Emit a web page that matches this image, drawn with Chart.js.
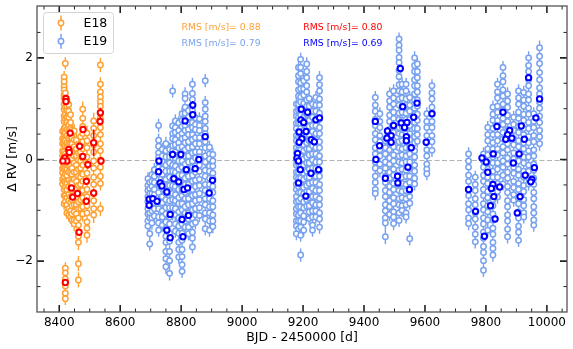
<!DOCTYPE html>
<html>
<head>
<meta charset="utf-8">
<script src="https://cdn.jsdelivr.net/npm/chart.js@4.4.1/dist/chart.umd.min.js"></script>
<style>
  html, body { margin: 0; padding: 0; background: #fff; }
</style>
</head>
<body>
<canvas id="rv" width="573" height="349"></canvas>
<script>
// ---- data ----
// each night: [BJD - 2450000, error, [RV values in m/s]]
const e18Nights = [
  [8411, 0.12, [0.55, 0.41, 0.31, 0.17, 0.07, -0.05, -0.17, -0.26, -0.39, -0.48]],
  [8416, 0.12, [1.62, 1.53, 1.43, 1.37, 1.27, 1.21, 1.09, 0.99, 0.85, 0.75, 0.61, 0.51, 0.39, 0.29, 0.15, 0.05, -0.09, -0.19, -0.33, -0.43, -0.59, -0.71, -0.87]],
  [8420, 0.12, [1.89, 1.31, 1.17, 1.03, 0.89, 0.79, 0.63, 0.53, 0.37, 0.27, 0.11, -0.01, -0.17, -0.29, -0.45, -0.55, -0.71, -0.83, -2.14, -2.23, -2.35, -2.49, -2.63, -2.74]],
  [8425, 0.12, [1.15, 1.04, 0.96, 0.83, 0.73, 0.59, 0.47, 0.33, 0.23, 0.07, -0.05, -0.19, -0.31, -0.47, -0.59, -0.75, -0.89, -1.05]],
  [8431, 0.13, [1.08, 0.95, 0.83, 0.69, 0.57, 0.43, 0.31, 0.15, 0.03, -0.13, -0.25, -0.41, -0.53, -0.69, -0.81, -0.97, -1.09]],
  [8437, 0.14, [0.88, 0.73, 0.61, 0.45, 0.31, 0.15, 0.03, -0.13, -0.27, -0.45, -0.57, -0.73, -0.85, -1.01, -1.13]],
  [8442, 0.14, [0.58, 0.43, 0.31, 0.13, 0.01, -0.17, -0.29, -0.47, -0.61, -0.79, -0.91, -1.07, -1.19]],
  [8449, 0.14, [0.56, 0.39, 0.25, 0.07, -0.07, -0.25, -0.39, -0.57, -0.71, -0.89, -1.03, -1.19, -1.27]],
  [8456, 0.14, [0.38, 0.21, 0.07, -0.11, -0.25, -0.43, -0.57, -0.75, -0.89, -1.07, -1.21]],
  [8463, 0.15, [0.30, 0.13, -0.01, -0.19, -0.33, -0.51, -0.65, -0.83, -0.97, -1.15, -1.29, -1.43, -1.51, -1.63, -2.05, -2.37]],
  [8470, 0.15, [0.45, 0.29, 0.15, -0.03, -0.17, -0.35, -0.49, -0.67, -0.79, -0.96]],
  [8477, 0.15, [0.99, 0.81, 0.65, 0.51, 0.35, 0.21, 0.03, -0.11, -0.29, -0.43, -0.61, -0.75, -0.93, -1.07]],
  [8491, 0.15, [0.52, 0.37, 0.23, 0.05, -0.09, -0.27, -0.41, -0.59, -0.73, -0.91, -1.05, -1.23, -1.35, -1.49]],
  [8513, 0.16, [0.76, 0.61, 0.47, 0.29, 0.15, -0.03, -0.17, -0.35, -0.49, -0.67, -0.81, -0.97, -1.09]],
  [8535, 0.14, [1.86, 1.48, 1.33, 1.23, 1.13, 1.05, 0.91, 0.81, 0.63, 0.49, 0.31, 0.17, -0.01, -0.15, -0.33, -0.47, -0.97]]
];

const e19Nights = [
  [8691, 0.13, [-0.38, -0.51, -0.61, -0.73, -0.83, -0.97, -1.07, -1.21, -1.31]],
  [8697, 0.13, [-0.45, -0.57, -0.67, -0.81, -0.91, -1.05, -1.15, -1.46, -1.66]],
  [8704, 0.13, [-0.30, -0.43, -0.53, -0.67, -0.77, -0.91, -1.01, -1.15, -1.25]],
  [8712, 0.13, [-0.20, -0.33, -0.45, -0.59, -0.69, -0.85, -0.97, -1.11]],
  [8726, 0.13, [0.67, 0.38, 0.26, 0.13, 0.04, -0.15, -0.29, -0.49, -0.65, -0.83, -0.97, -1.13, -1.25, -1.39]],
  [8738, 0.13, [0.20, 0.07, -0.04, -0.19, -0.29, -0.45, -0.57, -0.73, -0.85, -1.01, -1.13, -1.29]],
  [8750, 0.14, [0.31, 0.17, 0.05, -0.11, -0.23, -0.39, -0.51, -0.67, -0.79, -0.95, -1.07, -1.23, -1.35, -1.51, -1.63, -1.81, -1.95, -2.11]],
  [8762, 0.14, [0.20, 0.05, -0.07, -0.23, -0.35, -0.51, -0.63, -0.81, -0.95, -1.13, -1.27, -1.45, -1.61, -1.81, -1.99, -2.24]],
  [8772, 0.13, [1.35, 0.66, 0.51, 0.41, 0.27, 0.17, 0.03, -0.11, -0.23, -0.39, -0.51, -0.67, -0.79, -0.95, -1.07]],
  [8781, 0.13, [0.76, 0.63, 0.53, 0.39, 0.29, 0.15, 0.03, -0.13, -0.25, -0.41, -0.53, -0.69, -0.81, -0.97, -1.09, -1.27, -1.41]],
  [8792, 0.13, [0.72, 0.57, 0.47, 0.33, 0.23, 0.09, -0.03, -0.19, -0.31, -0.47, -0.59, -0.75, -0.87, -1.03, -1.15, -1.31, -1.45, -1.63, -1.77, -1.92]],
  [8803, 0.13, [0.90, 0.77, 0.65, 0.51, 0.41, 0.25, 0.13, -0.03, -0.15, -0.31, -0.43, -0.59, -0.71, -0.87, -0.99, -1.15, -1.27, -1.45, -1.59, -1.77, -1.91, -2.07, -2.20]],
  [8813, 0.13, [1.29, 1.20, 1.03, 0.91, 0.81, 0.67, 0.57, 0.43, 0.33, 0.19, 0.07, -0.09, -0.21, -0.37, -0.49, -0.65, -0.77, -0.93, -1.05, -1.21, -1.33]],
  [8824, 0.13, [0.96, 0.83, 0.73, 0.59, 0.49, 0.35, 0.23, 0.07, -0.05, -0.21, -0.33, -0.49, -0.61, -0.77, -0.89, -1.05, -1.17, -1.33, -1.46]],
  [8837, 0.13, [1.48, 1.30, 1.18, 0.97, 0.87, 0.73, 0.63, 0.49, 0.39, 0.25, 0.13, -0.03, -0.15, -0.31, -0.43, -0.59, -0.71, -0.87, -0.99, -1.15, -1.27, -1.43, -1.55, -1.72]],
  [8847, 0.13, [0.82, 0.69, 0.59, 0.43, 0.31, 0.15, 0.03, -0.13, -0.25, -0.41, -0.53, -0.69, -0.81, -0.97, -1.09, -1.24]],
  [8860, 0.13, [0.80, 0.67, 0.57, 0.43, 0.31, 0.15, 0.05, -0.11, -0.23, -0.39, -0.51, -0.67, -0.79, -0.95, -1.10]],
  [8879, 0.13, [1.55, 1.12, 0.99, 0.85, 0.75, 0.61, 0.51, 0.35, 0.23, 0.07, -0.05, -0.21, -0.33, -0.49, -0.61, -0.77, -0.89, -1.05, -1.17, -1.36]],
  [8893, 0.13, [0.24, 0.11, 0.01, -0.13, -0.23, -0.37, -0.49, -0.65, -0.77, -0.93, -1.05, -1.21, -1.39]],
  [8904, 0.13, [0.10, -0.03, -0.13, -0.27, -0.37, -0.53, -0.65, -0.81, -0.93, -1.09, -1.21, -1.32]],

  [9178, 0.13, [1.09, 0.95, 0.85, 0.71, 0.61, 0.47, 0.37, 0.23, 0.13, -0.01, -0.11, -0.25, -0.35, -0.49, -0.59, -0.73, -0.83, -0.97, -1.07, -1.21, -1.31, -1.46]],
  [9185, 0.13, [1.81, 1.65, 1.53, 1.37, 1.25, 1.09, 0.97, 0.83, 0.71, 0.55, 0.45, 0.29, 0.19, 0.03, -0.09, -0.25, -0.37, -0.53, -0.65, -0.81, -0.93, -1.09, -1.21, -1.36]],
  [9192, 0.13, [1.97, 1.81, 1.69, 1.51, 1.39, 1.23, 1.13, 0.97, 0.87, 0.71, 0.61, 0.45, 0.33, 0.19, 0.07, -0.09, -0.21, -0.37, -0.49, -0.65, -0.77, -0.93, -1.05, -1.21, -1.33, -1.49, -1.88]],
  [9202, 0.13, [1.55, 1.39, 1.27, 1.11, 0.99, 0.83, 0.71, 0.57, 0.45, 0.29, 0.17, 0.01, -0.11, -0.27, -0.39, -0.55, -0.67, -0.83, -0.95, -1.11, -1.23, -1.39]],
  [9212, 0.13, [1.88, 1.73, 1.61, 1.45, 1.33, 1.17, 1.05, 0.89, 0.77, 0.61, 0.49, 0.33, 0.21, 0.05, -0.07, -0.23, -0.35, -0.51, -0.63, -0.79, -0.92]],
  [9220, 0.13, [1.20, 1.05, 0.93, 0.77, 0.65, 0.49, 0.37, 0.21, 0.09, -0.07, -0.19, -0.35, -0.47, -0.63, -0.75, -0.91, -1.03, -1.16]],
  [9231, 0.13, [1.09, 0.95, 0.83, 0.67, 0.55, 0.39, 0.27, 0.11, -0.01, -0.17, -0.29, -0.45, -0.57, -0.73, -0.85, -1.01, -1.13, -1.29, -1.39]],
  [9242, 0.13, [1.22, 1.07, 0.95, 0.79, 0.67, 0.51, 0.39, 0.23, 0.11, -0.05, -0.17, -0.33, -0.45, -0.61, -0.73, -0.89, -1.01, -1.13]],
  [9254, 0.13, [1.61, 1.47, 1.35, 1.19, 1.07, 0.91, 0.79, 0.63, 0.51, 0.35, 0.23, 0.07, -0.05, -0.21, -0.33, -0.49, -0.61, -0.77, -0.89, -1.05, -1.17, -1.33]],

  [9437, 0.13, [1.22, 1.07, 0.95, 0.79, 0.67, 0.51, 0.39, 0.23, 0.11, -0.05, -0.17, -0.33, -0.45, -0.59, -0.67]],
  [9452, 0.13, [0.90, 0.75, 0.63, 0.47, 0.35, 0.19, 0.07, -0.09, -0.22]],
  [9470, 0.14, [0.37, 0.23, 0.11, -0.05, -0.17, -0.33, -0.45, -0.61, -0.73, -0.89, -1.01, -1.15, -1.25, -1.52]],
  [9484, 0.13, [1.29, 1.15, 1.03, 0.87, 0.75, 0.59, 0.47, 0.31, 0.19, 0.03, -0.09, -0.25, -0.37, -0.53, -0.65, -0.81, -0.93, -1.08]],
  [9497, 0.13, [1.35, 1.21, 1.09, 0.93, 0.81, 0.65, 0.53, 0.37, 0.25, 0.09, -0.03, -0.19, -0.31, -0.47, -0.59, -0.75, -0.87, -1.03, -1.13, -1.26]],
  [9515, 0.13, [2.37, 2.25, 2.15, 2.01, 1.91, 1.75, 1.63, 1.47, 1.35, 1.19, 1.07, 0.91, 0.79, 0.63, 0.51, 0.35, 0.23, 0.07, -0.05, -0.21, -0.33, -0.49, -0.61, -0.77, -0.89, -1.05, -1.20]],
  [9525, 0.13, [1.48, 1.33, 1.21, 1.05, 0.93, 0.77, 0.65, 0.49, 0.37, 0.21, 0.09, -0.07, -0.19, -0.35, -0.47, -0.63, -0.75, -0.91, -1.00]],
  [9538, 0.13, [1.48, 1.35, 1.19, 1.07, 0.91, 0.79, 0.63, 0.51, 0.35, 0.23, 0.07, -0.05, -0.21, -0.33, -0.49, -0.61, -0.77, -0.89, -1.05, -1.13]],
  [9550, 0.13, [1.22, 1.07, 0.95, 0.79, 0.67, 0.51, 0.39, 0.23, 0.11, -0.05, -0.17, -0.33, -0.45, -0.61, -0.73, -0.86, -1.56]],
  [9566, 0.13, [2.00, 1.85, 1.73, 1.57, 1.45, 1.29, 1.17, 1.01, 0.89, 0.73, 0.61, 0.45, 0.33, 0.17, 0.05, -0.11, -0.23, -0.37, -0.48]],
  [9575, 0.13, [1.88, 1.73, 1.61, 1.45, 1.33, 1.17, 1.05, 0.89, 0.77, 0.61, 0.49, 0.36]],
  [9606, 0.13, [0.90, 0.75, 0.63, 0.47, 0.35, 0.19, 0.07, -0.09, -0.19, -0.28]],
  [9623, 0.13, [1.45, 1.31, 1.19, 1.03, 0.91, 0.75, 0.63, 0.47, 0.35, 0.18]],

  [9743, 0.13, [0.11, -0.03, -0.15, -0.31, -0.43, -0.59, -0.71, -0.87, -0.99, -1.15, -1.26]],
  [9765, 0.13, [-0.35, -0.49, -0.61, -0.77, -0.89, -1.05, -1.17, -1.33, -1.47, -1.62]],
  [9792, 0.13, [0.11, -0.03, -0.15, -0.31, -0.43, -0.59, -0.71, -0.87, -0.99, -1.15, -1.27, -1.43, -1.55, -1.71, -1.83, -1.99, -2.18]],
  [9806, 0.13, [0.63, 0.49, 0.37, 0.21, 0.09, -0.07, -0.19, -0.35, -0.47, -0.63, -0.75, -0.91, -1.03, -1.19, -1.39]],
  [9823, 0.13, [1.03, 0.89, 0.77, 0.61, 0.49, 0.33, 0.21, 0.05, -0.07, -0.23, -0.35, -0.51, -0.63, -0.79, -0.91, -1.07, -1.19, -1.35, -1.47, -1.63, -1.75, -1.88]],
  [9838, 0.13, [1.48, 1.33, 1.21, 1.05, 0.93, 0.77, 0.65, 0.49, 0.37, 0.21, 0.09, -0.07, -0.19, -0.35, -0.47, -0.63, -0.74]],
  [9856, 0.13, [1.81, 1.65, 1.53, 1.37, 1.25, 1.09, 0.97, 0.81, 0.69, 0.53, 0.41, 0.25, 0.13, -0.03, -0.15, -0.31, -0.48]],
  [9871, 0.13, [1.29, 1.15, 1.03, 0.87, 0.75, 0.59, 0.47, 0.31, 0.19, 0.03, -0.09, -0.25, -0.37, -0.53, -0.65, -0.81, -0.93, -1.09, -1.21, -1.37, -1.52]],
  [9891, 0.13, [0.83, 0.69, 0.57, 0.41, 0.29, 0.13, 0.01, -0.15, -0.27, -0.43, -0.55, -0.69, -0.80]],
  [9907, 0.13, [1.35, 1.21, 1.09, 0.93, 0.81, 0.65, 0.53, 0.37, 0.25, 0.09, -0.03, -0.19, -0.31, -0.47, -0.59, -0.75, -0.87, -1.03, -1.15, -1.31, -1.43, -1.59]],
  [9924, 0.13, [1.32, 1.17, 1.05, 0.89, 0.77, 0.61, 0.49, 0.33, 0.21, 0.05, -0.07, -0.23, -0.35, -0.51, -0.63, -0.79, -0.91, -1.05, -1.13]],
  [9940, 0.13, [2.00, 1.85, 1.73, 1.57, 1.45, 1.29, 1.17, 1.01, 0.89, 0.73, 0.61, 0.45, 0.33, 0.17, 0.05, -0.11, -0.23, -0.37, -0.48]],
  [9957, 0.13, [0.90, 0.75, 0.63, 0.47, 0.35, 0.19, 0.07, -0.09, -0.21, -0.37, -0.49, -0.65, -0.77, -0.93, -1.05, -1.19, -1.29]],
  [9976, 0.14, [2.20, 2.03, 1.89, 1.71, 1.57, 1.41, 1.29, 1.13, 1.01, 0.85, 0.73, 0.57, 0.45, 0.31]]
];

// binned points: [BJD - 2450000, RV, error]
const e18Binned = [
  [8422, 1.20, 0.06], [8422, 1.14, 0.06], [8436, 0.52, 0.06], [8478, 0.59, 0.07], [8467, 0.26, 0.07],
  [8431, 0.20, 0.06], [8433, 0.14, 0.06], [8477, 0.06, 0.07], [8535, 0.92, 0.10], [8534, 0.75, 0.08],
  [8513, 0.33, 0.26], [8494, -0.10, 0.08], [8418, 0.03, 0.06], [8425, -0.03, 0.06], [8412, -0.03, 0.06],
  [8537, -0.03, 0.07], [8440, -0.56, 0.06], [8489, -0.43, 0.07], [8444, -0.74, 0.06], [8460, -0.67, 0.07],
  [8489, -0.82, 0.07], [8513, -0.66, 0.08], [8465, -1.43, 0.07], [8420, -2.42, 0.06]
];

const e19Binned = [
  [8838, 1.07, 0.08], [8838, 0.88, 0.06], [8813, 0.76, 0.06], [8879, 0.45, 0.06], [8772, 0.10, 0.06],
  [8799, 0.10, 0.06], [8727, -0.03, 0.06], [8858, 0.00, 0.06], [8726, -0.24, 0.06], [8817, -0.20, 0.06],
  [8846, -0.18, 0.06], [8903, -0.41, 0.06], [8776, -0.38, 0.06], [8792, -0.44, 0.06], [8731, -0.46, 0.06],
  [8737, -0.52, 0.06], [8753, -0.64, 0.06], [8809, -0.59, 0.06], [8821, -0.56, 0.06], [8892, -0.66, 0.06],
  [8695, -0.78, 0.06], [8707, -0.77, 0.06], [8721, -0.82, 0.06], [8695, -0.90, 0.06], [8764, -1.08, 0.06],
  [8824, -1.10, 0.06], [8803, -1.18, 0.06], [8753, -1.39, 0.06], [8764, -1.54, 0.06], [8806, -1.52, 0.06],
  [9194, 0.99, 0.06], [9215, 0.93, 0.06], [9193, 0.78, 0.06], [9202, 0.73, 0.06], [9242, 0.78, 0.06],
  [9254, 0.82, 0.06], [9187, 0.54, 0.06], [9210, 0.55, 0.06], [9196, 0.41, 0.06], [9187, 0.34, 0.06],
  [9227, 0.39, 0.06], [9237, 0.35, 0.06], [9182, 0.12, 0.06], [9180, 0.03, 0.06], [9185, -0.03, 0.06],
  [9191, -0.20, 0.06], [9226, -0.27, 0.06], [9251, -0.20, 0.06], [9185, -0.46, 0.06], [9209, -0.72, 0.06],
  [9519, 1.79, 0.06], [9574, 1.11, 0.06], [9527, 1.04, 0.06], [9623, 0.90, 0.06], [9437, 0.75, 0.06],
  [9563, 0.83, 0.06], [9522, 0.72, 0.06], [9541, 0.73, 0.06], [9497, 0.67, 0.06], [9533, 0.63, 0.06],
  [9477, 0.56, 0.08], [9489, 0.47, 0.06], [9475, 0.42, 0.06], [9539, 0.45, 0.06], [9489, 0.34, 0.06],
  [9451, 0.27, 0.06], [9539, 0.37, 0.06], [9604, 0.34, 0.06], [9555, 0.23, 0.06], [9439, 0.00, 0.06],
  [9544, -0.15, 0.06], [9470, -0.37, 0.06], [9510, -0.33, 0.06], [9511, -0.46, 0.06], [9549, -0.59, 0.06],
  [9940, 1.61, 0.06], [9976, 1.19, 0.06], [9856, 0.93, 0.06], [9964, 0.82, 0.06], [9836, 0.65, 0.06],
  [9916, 0.66, 0.06], [9878, 0.57, 0.06], [9871, 0.49, 0.06], [9885, 0.42, 0.06], [9865, 0.40, 0.06],
  [9926, 0.40, 0.06], [9824, 0.11, 0.06], [9909, 0.11, 0.06], [9787, 0.03, 0.06], [9801, -0.05, 0.06],
  [9890, -0.07, 0.06], [9806, -0.25, 0.06], [9959, -0.16, 0.06], [9929, -0.31, 0.06], [9951, -0.39, 0.06],
  [9947, -0.44, 0.06], [9823, -0.49, 0.06], [9845, -0.54, 0.06], [9818, -0.57, 0.06], [9826, -0.73, 0.06],
  [9743, -0.59, 0.06], [9912, -0.73, 0.06], [9815, -0.91, 0.06], [9766, -1.02, 0.06], [9903, -1.05, 0.06],
  [9830, -1.17, 0.06], [9795, -1.51, 0.06]
];

const xTicks = [8400, 8600, 8800, 9000, 9200, 9400, 9600, 9800, 10000];
const xMinor = [8350, 8450, 8500, 8550, 8650, 8700, 8750, 8850, 8900, 8950, 9050, 9100, 9150,
  9250, 9300, 9350, 9450, 9500, 9550, 9650, 9700, 9750, 9850, 9900, 9950, 10050];
const yTicks = [-2, 0, 2];
const yMinor = [-2.5, -1.5, -1, -0.5, 0.5, 1, 1.5, 2.5];

const seriesNames = ['E18', 'E19'];
const rmsLabels = ['RMS [m/s]= 0.88', 'RMS [m/s]= 0.79', 'RMS [m/s]= 0.80', 'RMS [m/s]= 0.69'];

const C_E18 = '#FFA033';
const C_E19 = '#78A2EF';
const C_BIN18 = '#FF0000';
const C_BIN19 = '#0000FF';
const FONT = "'DejaVu Sans', sans-serif";

function fromNights(nights) {
  const data = [], errs = [];
  nights.forEach(([t, e, ys]) => ys.forEach(v => { data.push({ x: t, y: v }); errs.push(e); }));
  return { data, errs };
}
function fromBinned(rows) {
  return { data: rows.map(r => ({ x: r[0], y: r[1] })), errs: rows.map(r => r[2]) };
}

const s18 = fromNights(e18Nights);
const s19 = fromNights(e19Nights);
const b18 = fromBinned(e18Binned);
const b19 = fromBinned(e19Binned);

// ---- plugins ----
const errorBars = {
  id: 'errorBars',
  beforeDatasetDraw(chart, args) {
    const ds = chart.data.datasets[args.index];
    if (!ds.errs) return;
    const { ctx, chartArea: a, scales: { x, y } } = chart;
    ctx.save();
    ctx.beginPath();
    ctx.rect(a.left, a.top, a.width, a.height);
    ctx.clip();
    ctx.strokeStyle = ds.borderColor;
    ctx.lineWidth = ds.errWidth;
    ctx.beginPath();
    ds.data.forEach((p, i) => {
      const px = x.getPixelForValue(p.x);
      ctx.moveTo(px, y.getPixelForValue(p.y + ds.errs[i]));
      ctx.lineTo(px, y.getPixelForValue(p.y - ds.errs[i]));
    });
    ctx.stroke();
    ctx.restore();
  }
};

const zeroLine = {
  id: 'zeroLine',
  beforeDatasetsDraw(chart) {
    const { ctx, chartArea: a, scales: { y } } = chart;
    const py = Math.round(y.getPixelForValue(0)) + 0.5;
    ctx.save();
    ctx.strokeStyle = '#b3b3b3';
    ctx.lineWidth = 1;
    ctx.setLineDash([5, 2.5]);
    ctx.beginPath();
    ctx.moveTo(a.left, py);
    ctx.lineTo(a.right, py);
    ctx.stroke();
    ctx.restore();
  }
};

const frameTicks = {
  id: 'frameTicks',
  afterDraw(chart) {
    const { ctx, chartArea: a, scales: { x, y } } = chart;
    ctx.save();
    ctx.strokeStyle = '#222';
    const vTicks = (vals, len, w) => {
      ctx.lineWidth = w;
      ctx.beginPath();
      vals.forEach(v => {
        const px = x.getPixelForValue(v);
        if (px < a.left || px > a.right) return;
        ctx.moveTo(px, a.bottom); ctx.lineTo(px, a.bottom - len);
        ctx.moveTo(px, a.top); ctx.lineTo(px, a.top + len);
      });
      ctx.stroke();
    };
    const hTicks = (vals, len, w) => {
      ctx.lineWidth = w;
      ctx.beginPath();
      vals.forEach(v => {
        const py = y.getPixelForValue(v);
        ctx.moveTo(a.left, py); ctx.lineTo(a.left + len, py);
        ctx.moveTo(a.right, py); ctx.lineTo(a.right - len, py);
      });
      ctx.stroke();
    };
    vTicks(xTicks, 7, 1.6);
    vTicks(xMinor, 3.5, 1);
    hTicks(yTicks, 7, 1.6);
    hTicks(yMinor, 3.5, 1);
    ctx.strokeStyle = '#555';
    ctx.lineWidth = 1.3;
    ctx.strokeRect(a.left, a.top, a.width, a.height);

    // legend box
    const lx = 43.5, ly = 12.5;
    ctx.fillStyle = 'rgba(255,255,255,0.85)';
    ctx.strokeStyle = '#d4d4d4';
    ctx.lineWidth = 1;
    ctx.beginPath();
    ctx.roundRect(lx, ly, 70, 41, 3);
    ctx.fill();
    ctx.stroke();
    [[C_E18, seriesNames[0]], [C_E19, seriesNames[1]]].forEach(([c, name], i) => {
      const cy = ly + 10.5 + i * 18.3;
      const cx = lx + 17.5;
      ctx.strokeStyle = c;
      ctx.lineWidth = 1.5;
      ctx.beginPath();
      ctx.moveTo(cx, cy - 7.5); ctx.lineTo(cx, cy + 7.5);
      ctx.stroke();
      ctx.fillStyle = '#fff';
      ctx.beginPath();
      ctx.arc(cx, cy, 2.7, 0, Math.PI * 2);
      ctx.fill();
      ctx.stroke();
      ctx.fillStyle = '#000';
      ctx.font = '12.5px ' + FONT;
      ctx.textBaseline = 'middle';
      ctx.textAlign = 'left';
      ctx.fillText(name, lx + 40, cy + 0.5);
    });

    // RMS annotations
    ctx.font = '9.3px ' + FONT;
    ctx.textBaseline = 'middle';
    ctx.textAlign = 'left';
    const rmsPos = [[181.5, 27.7, C_E18], [181.5, 43.3, C_E19], [303.3, 27.7, C_BIN18], [303.3, 43.3, C_BIN19]];
    rmsPos.forEach(([tx, ty, c], i) => {
      ctx.fillStyle = c;
      ctx.fillText(rmsLabels[i], tx, ty);
    });
    ctx.restore();
  }
};

const minus = v => (v < 0 ? '\u2212' + Math.abs(v) : String(v));

new Chart(document.getElementById('rv'), {
  type: 'scatter',
  data: {
    datasets: [
      { label: 'E19 binned', data: b19.data, errs: b19.errs, errWidth: 1.6,
        borderColor: C_BIN19, backgroundColor: '#fff', pointRadius: 2.7, borderWidth: 2 },
      { label: 'E18 binned', data: b18.data, errs: b18.errs, errWidth: 1.6,
        borderColor: C_BIN18, backgroundColor: '#fff', pointRadius: 2.7, borderWidth: 2 },
      { label: seriesNames[1], data: s19.data, errs: s19.errs, errWidth: 1.4,
        borderColor: C_E19, backgroundColor: '#fff', pointRadius: 2.7, borderWidth: 1.5 },
      { label: seriesNames[0], data: s18.data, errs: s18.errs, errWidth: 1.4,
        borderColor: C_E18, backgroundColor: '#fff', pointRadius: 2.7, borderWidth: 1.5 }
    ]
  },
  options: {
    responsive: false,
    animation: false,
    events: [],
    layout: { padding: { left: 0, right: 6, top: 5, bottom: 0 } },
    plugins: { legend: { display: false }, tooltip: { enabled: false } },
    scales: {
      x: {
        type: 'linear',
        min: 8327, max: 10066,
        grid: { display: false, drawTicks: false },
        border: { display: false },
        afterBuildTicks: s => { s.ticks = xTicks.map(v => ({ value: v })); },
        afterFit: s => { s.height = 37; s.paddingLeft = 0; s.paddingRight = 0; },
        ticks: { color: '#000', padding: 4, font: { family: FONT, size: 12 }, maxRotation: 0,
          callback: v => String(v) },
        title: { display: true, text: 'BJD - 2450000 [d]', color: '#000',
          font: { family: FONT, size: 12.5 }, padding: { top: 0, bottom: 3.5 } }
      },
      y: {
        type: 'linear',
        min: -3, max: 3.02,
        grid: { display: false, drawTicks: false },
        border: { display: false },
        afterBuildTicks: s => { s.ticks = yTicks.map(v => ({ value: v })); },
        afterFit: s => { s.width = 37; s.paddingTop = 0; s.paddingBottom = 0; },
        ticks: { color: '#000', padding: 4, font: { family: FONT, size: 12 }, callback: v => minus(v) },
        title: { display: true, text: 'Δ RV [m/s]', color: '#000',
          font: { family: FONT, size: 12.5 }, padding: { top: 5.5, bottom: 0 } }
      }
    }
  },
  plugins: [zeroLine, errorBars, frameTicks]
});
</script>
</body>
</html>
